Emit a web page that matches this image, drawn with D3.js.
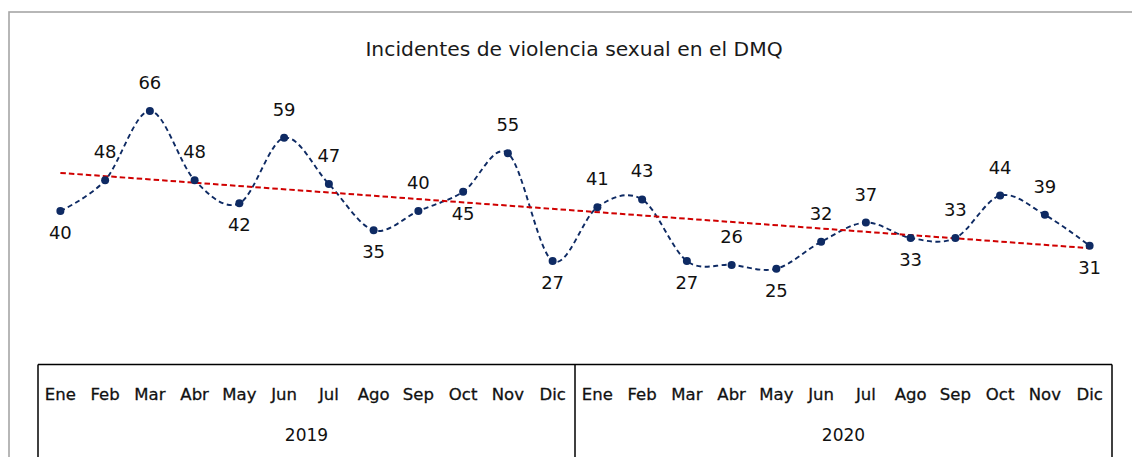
<!DOCTYPE html>
<html>
<head>
<meta charset="utf-8">
<script src="https://cdn.jsdelivr.net/npm/d3@7"></script>
<style>
  html, body { margin: 0; padding: 0; background: #fff; }
  svg { display: block; }
</style>
</head>
<body>
<svg id="chart" width="1132" height="457"></svg>
<script>
const title = "Incidentes de violencia sexual en el DMQ";
const months = ["Ene","Feb","Mar","Abr","May","Jun","Jul","Ago","Sep","Oct","Nov","Dic"];
const years = ["2019","2020"];
const values = [40,48,66,48,42,59,47,35,40,45,55,27, 41,43,27,26,25,32,37,33,33,44,39,31];
const labelSide = ["below","above","above","above","below","above","above","below","above","below","above","below",
                   "above","above","below","above","below","above","above","below","above","above","above","below"];

const svg = d3.select("#chart");
const W = 1132, H = 457;
const left = 38, right = 1112, tableTop = 364.5, plotBottom = 365;

const cats = [];
years.forEach(y => months.forEach(m => cats.push(y + "-" + m)));

const x = d3.scaleBand().domain(cats).range([left, right]).padding(0);
const y = d3.scaleLinear().domain([0, 70]).range([plotBottom, 95.5]);
const cx = (i) => x(cats[i]) + x.bandwidth() / 2;

// outer frame
svg.append("rect").attr("x", 9).attr("y", 12).attr("width", 1140).attr("height", 460)
  .attr("fill", "none").attr("stroke", "#a6a6a6").attr("stroke-width", 1.6);

// title
svg.append("text").attr("x", 574).attr("y", 56).attr("text-anchor", "middle")
  .attr("font-family", "'DejaVu Sans', sans-serif").attr("font-size", 20.3)
  .attr("fill", "#1a1a1a").text(title);

// trend line (least squares)
const n = values.length;
const xs = d3.range(n);
const mx = d3.mean(xs), my = d3.mean(values);
const slope = d3.sum(xs, i => (i - mx) * (values[i] - my)) / d3.sum(xs, i => (i - mx) ** 2);
const icpt = my - slope * mx;

// smooth data line
const line = d3.line().x((d, i) => cx(i)).y(d => y(d)).curve(d3.curveCardinal.tension(0));
svg.append("path").datum(values).attr("d", line)
  .attr("fill", "none").attr("stroke", "#0e2a63").attr("stroke-width", 1.9)
  .attr("stroke-dasharray", "5,3.5");

svg.append("line")
  .attr("x1", cx(0)).attr("y1", y(icpt))
  .attr("x2", cx(n - 1)).attr("y2", y(icpt + slope * (n - 1)))
  .attr("stroke", "#d00000").attr("stroke-width", 2).attr("stroke-dasharray", "5.5,3");

// markers
svg.append("g").selectAll("circle").data(values).join("circle")
  .attr("cx", (d, i) => cx(i)).attr("cy", d => y(d)).attr("r", 4)
  .attr("fill", "#0e2a63");

// data labels
svg.append("g").selectAll("text").data(values).join("text")
  .attr("x", (d, i) => cx(i))
  .attr("y", (d, i) => labelSide[i] === "above" ? y(d) - 22 : y(d) + 28)
  .attr("text-anchor", "middle")
  .attr("font-family", "'DejaVu Sans', sans-serif").attr("font-size", 18)
  .attr("fill", "#111").text(d => d);

// category table
const g = svg.append("g");
g.append("line").attr("x1", left).attr("x2", right).attr("y1", tableTop).attr("y2", tableTop)
  .attr("stroke", "#000").attr("stroke-width", 1.5);
const dividers = [0, 12, 24].map(k => k < 24 ? x(cats[k]) : right);
dividers.forEach(xx => {
  g.append("line").attr("x1", xx).attr("x2", xx).attr("y1", tableTop).attr("y2", H)
    .attr("stroke", "#000").attr("stroke-width", 1.5);
});
g.selectAll("text.m").data(cats).join("text").attr("class", "m")
  .attr("x", (d, i) => cx(i)).attr("y", 399.5).attr("text-anchor", "middle")
  .attr("font-family", "'DejaVu Sans', sans-serif").attr("font-size", 16.5)
  .attr("fill", "#111").attr("stroke", "#111").attr("stroke-width", 0.3)
  .text(d => d.split("-")[1]);
g.selectAll("text.y").data(years).join("text").attr("class", "y")
  .attr("x", (d, i) => (x(cats[i * 12]) + (i === 1 ? right : x(cats[12]))) / 2)
  .attr("y", 441).attr("text-anchor", "middle")
  .attr("font-family", "'DejaVu Sans', sans-serif").attr("font-size", 17)
  .attr("fill", "#111").text(d => d);
</script>
</body>
</html>
